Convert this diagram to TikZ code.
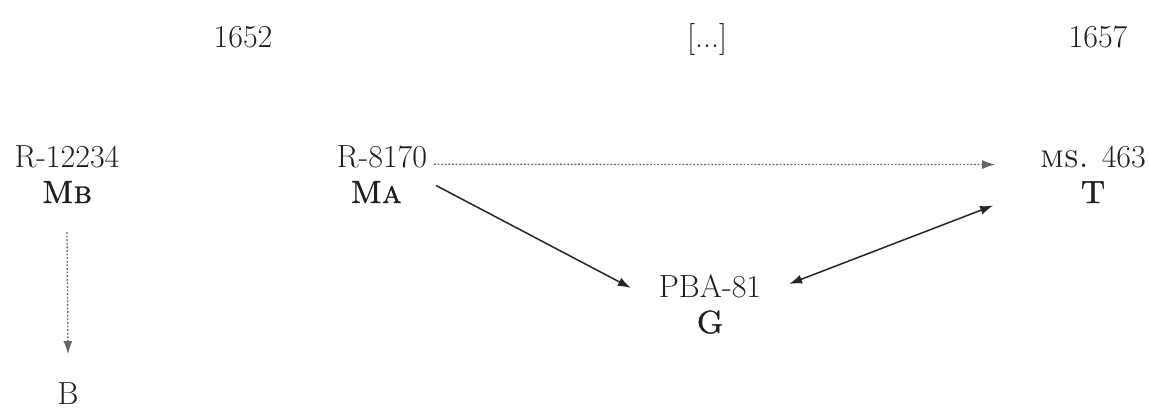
\documentclass[tikz,border=0pt]{standalone}
\usepackage{fontspec}
\setmainfont{Latin Modern Roman}[SmallCapsFont={Latin Modern Roman Caps}]
\newfontfamily\scb{Latin Modern Roman Caps}[FakeBold=1.2]
\usetikzlibrary{arrows.meta}
\tikzset{
  lbl/.style={anchor=base, inner sep=0pt, outer sep=0pt, font=\fontsize{32}{36}\selectfont, text=black!88},
  sclbl/.style={lbl, font=\fontsize{32}{36}\scb},
  tip/.style={-{Latex[length=13pt,width=9pt]}},
  solidarr/.style={tip, line width=1.5pt, black!85},
  dblarr/.style={{Latex[length=13pt,width=9pt]}-{Latex[length=13pt,width=9pt]}, line width=1.5pt, black!85},
  dotarr/.style={tip, line width=1.3pt, black!60, dash pattern=on 1.8pt off 1.8pt},
}
\begin{document}
\begin{tikzpicture}[x=1pt,y=-1pt]
\useasboundingbox (0,0) rectangle (1149,410);
% years
\node[lbl] (y1) at (243,47) {1652};
\node[lbl] (y2) at (707,47) {[...]};
\node[lbl] (y3) at (1098,47) {1657};
% manuscripts
\node[lbl] (r12234) at (67,167) {R-12234};
\node[sclbl] (mb) at (67,203) {Mb};
\node[lbl] (r8170) at (382,167) {R-8170};
\node[sclbl] (ma) at (376,203) {Ma};
\node[lbl] (ms) at (1093,167) {\textsc{ms.} 463};
\node[sclbl] (t) at (1093,203) {T};
\node[lbl] (pba) at (710,297) {PBA-81};
\node[sclbl] (g) at (710,333) {G};
\node[lbl] (b) at (68,404) {B};
% connectors
\draw[dotarr] ([xshift=7pt,yshift=-8pt]r8170.east) -- ([xshift=-45pt,yshift=-8pt]ms.west);
\draw[solidarr] ([xshift=9pt,yshift=-18pt]r8170.south east) -- ([xshift=-28pt,yshift=-2pt]pba.west);
\draw[dblarr] ([xshift=28pt,yshift=2pt]pba.east) -- ([xshift=-47pt,yshift=-38pt]ms.south west);
\draw[dotarr] ([yshift=-29pt]mb.south) -- ([yshift=28pt]b.north);
\end{tikzpicture}
\end{document}
